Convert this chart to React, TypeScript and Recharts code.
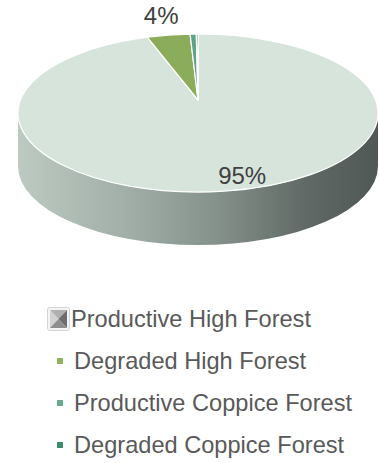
import React from 'react';
import { PieChart, Pie, Cell, Legend, Tooltip } from 'recharts';

const categories = ['Productive High Forest', 'Degraded High Forest', 'Productive Coppice Forest', 'Degraded Coppice Forest'];
const shares = [95.45, 3.85, 0.55, 0.15];
const topColors = ['#d7e4dc', '#8aac5b', '#5fa38a', '#3d8c6a'];
const legendColors = ['#9a9a9a', '#8db55e', '#6aaa90', '#3d8c6a'];

const data = categories.map((name, i) => ({ name, value: shares[i] }));

const RAD = Math.PI / 180;
const RY = 79 / 180;
const APEX_LIFT = 13;
const DEPTH = 53;

const pt = (cx: number, cy: number, r: number, a: number) => [cx + r * Math.cos(a * RAD), cy - r * RY * Math.sin(a * RAD)];

const TopSlice = (p: any) => {
  const { cx, cy, outerRadius, startAngle, endAngle, fill } = p;
  const r = outerRadius;
  const [x1, y1] = pt(cx, cy, r, startAngle);
  const [x2, y2] = pt(cx, cy, r, endAngle);
  const large = Math.abs(endAngle - startAngle) > 180 ? 1 : 0;
  const sweep = startAngle > endAngle ? 1 : 0;
  const d = `M${cx},${cy - APEX_LIFT} L${x1},${y1} A${r},${r * RY} 0 ${large} ${sweep} ${x2},${y2} Z`;
  return <path d={d} fill={fill} stroke="#ffffff" strokeWidth={1.2} strokeLinejoin="round" />;
};

// only the front half of the rim is visible
const SideSlice = (p: any) => {
  const { cx, cy, outerRadius, startAngle, endAngle, fill } = p;
  const r = outerRadius;
  const a1 = Math.min(startAngle, 0);
  const a2 = Math.max(endAngle, -180);
  if (a1 <= a2) return null;
  const [x1, y1] = pt(cx, cy, r, a1);
  const [x2, y2] = pt(cx, cy, r, a2);
  const d = `M${x1},${y1} A${r},${r * RY} 0 0 1 ${x2},${y2} L${x2},${y2 + DEPTH} A${r},${r * RY} 0 0 0 ${x1},${y1 + DEPTH} Z`;
  return <path d={d} fill={fill} />;
};

const renderLabel = (p: any) => {
  const { cx, cy, outerRadius, midAngle, percent, index } = p;
  if (index > 1) return null;
  const k = index === 0 ? 0.83 : 1.245;
  const a = index === 0 ? midAngle + 9 : midAngle;
  const [x, y] = pt(cx, cy, outerRadius * k, a);
  return (
    <text x={x} y={y} textAnchor="middle" dominantBaseline="central" fill="#404040" fontSize={24} fontFamily="'Liberation Sans', Arial, sans-serif">
      {`${Math.round(percent * 100)}%`}
    </text>
  );
};

const GradIcon = () => (
  <svg width={23} height={24} style={{ display: 'block' }}>
    <rect x={0.5} y={0.5} width={22} height={23} rx={2} fill="#f4f4f4" stroke="#d4d4d4" />
    <polygon points="3,3 20,3 11.5,12" fill="#b0b0b0" />
    <polygon points="3,3 11.5,12 3,21" fill="#d2d2d2" />
    <polygon points="20,3 20,21 11.5,12" fill="#6e6e6e" />
    <polygon points="3,21 20,21 11.5,12" fill="#8e8e8e" />
  </svg>
);

const renderLegend = (props: any) => {
  const items = (props.payload || []).filter((e: any) => e.type !== 'none');
  const seen: Record<string, boolean> = {};
  const rows = items
    .filter((e: any) => (seen[e.value] ? false : (seen[e.value] = true)))
    .sort((a: any, b: any) => categories.indexOf(a.value) - categories.indexOf(b.value));
  return (
    <div style={{ fontFamily: "'Liberation Sans', Arial, sans-serif", fontSize: 23.6, color: '#595959' }}>
      {rows.map((entry: any, i: number) => (
        <div key={`legend-${i}`} style={{ display: 'flex', alignItems: 'center', height: 30, marginBottom: 12, whiteSpace: 'nowrap' }}>
          {i === 0 ? (
            <span style={{ marginRight: 1 }}><GradIcon /></span>
          ) : (
            <span style={{ width: 6, height: 6, background: legendColors[i], marginLeft: 10, marginRight: 11, display: 'inline-block' }} />
          )}
          <span>{entry.value}</span>
        </div>
      ))}
    </div>
  );
};

const App: React.FC = () => {
  return (
    <div style={{ position: 'absolute', left: 0, top: 0, width: 379, height: 463, background: '#ffffff' }}>
      <PieChart width={379} height={463} margin={{ top: 0, right: 0, bottom: 0, left: 0 }}>
        <defs>
          <linearGradient id="sideGrad" x1="18" y1="0" x2="378" y2="0" gradientUnits="userSpaceOnUse">
            <stop offset="0" stopColor="#bccac2" />
            <stop offset="0.3" stopColor="#a1afa8" />
            <stop offset="0.55" stopColor="#85918b" />
            <stop offset="0.8" stopColor="#606965" />
            <stop offset="1" stopColor="#505855" />
          </linearGradient>
        </defs>
        <Pie
          data={data}
          dataKey="value"
          nameKey="name"
          cx={198}
          cy={113}
          outerRadius={180}
          startAngle={90}
          endAngle={-270}
          legendType="none"
          isAnimationActive={false}
          shape={SideSlice}
          activeShape={SideSlice}
          inactiveShape={SideSlice}
        >
          {data.map((entry, i) => (
            <Cell key={`side-${i}`} fill={i === 0 ? 'url(#sideGrad)' : topColors[i]} />
          ))}
        </Pie>
        <Pie
          data={data}
          dataKey="value"
          nameKey="name"
          cx={198}
          cy={113}
          outerRadius={180}
          startAngle={90}
          endAngle={-270}
          isAnimationActive={false}
          label={renderLabel}
          labelLine={false}
          shape={TopSlice}
          activeShape={TopSlice}
          inactiveShape={TopSlice}
        >
          {data.map((entry, i) => (
            <Cell key={`top-${i}`} fill={topColors[i]} />
          ))}
        </Pie>
        <Tooltip defaultIndex={0} content={() => null} wrapperStyle={{ display: 'none' }} />
        <Legend
          content={renderLegend}
          itemSorter={null as any}
          wrapperStyle={{ position: 'absolute', left: 47, top: 304, width: 330, height: 156 }}
        />
      </PieChart>
    </div>
  );
};

export default App;
